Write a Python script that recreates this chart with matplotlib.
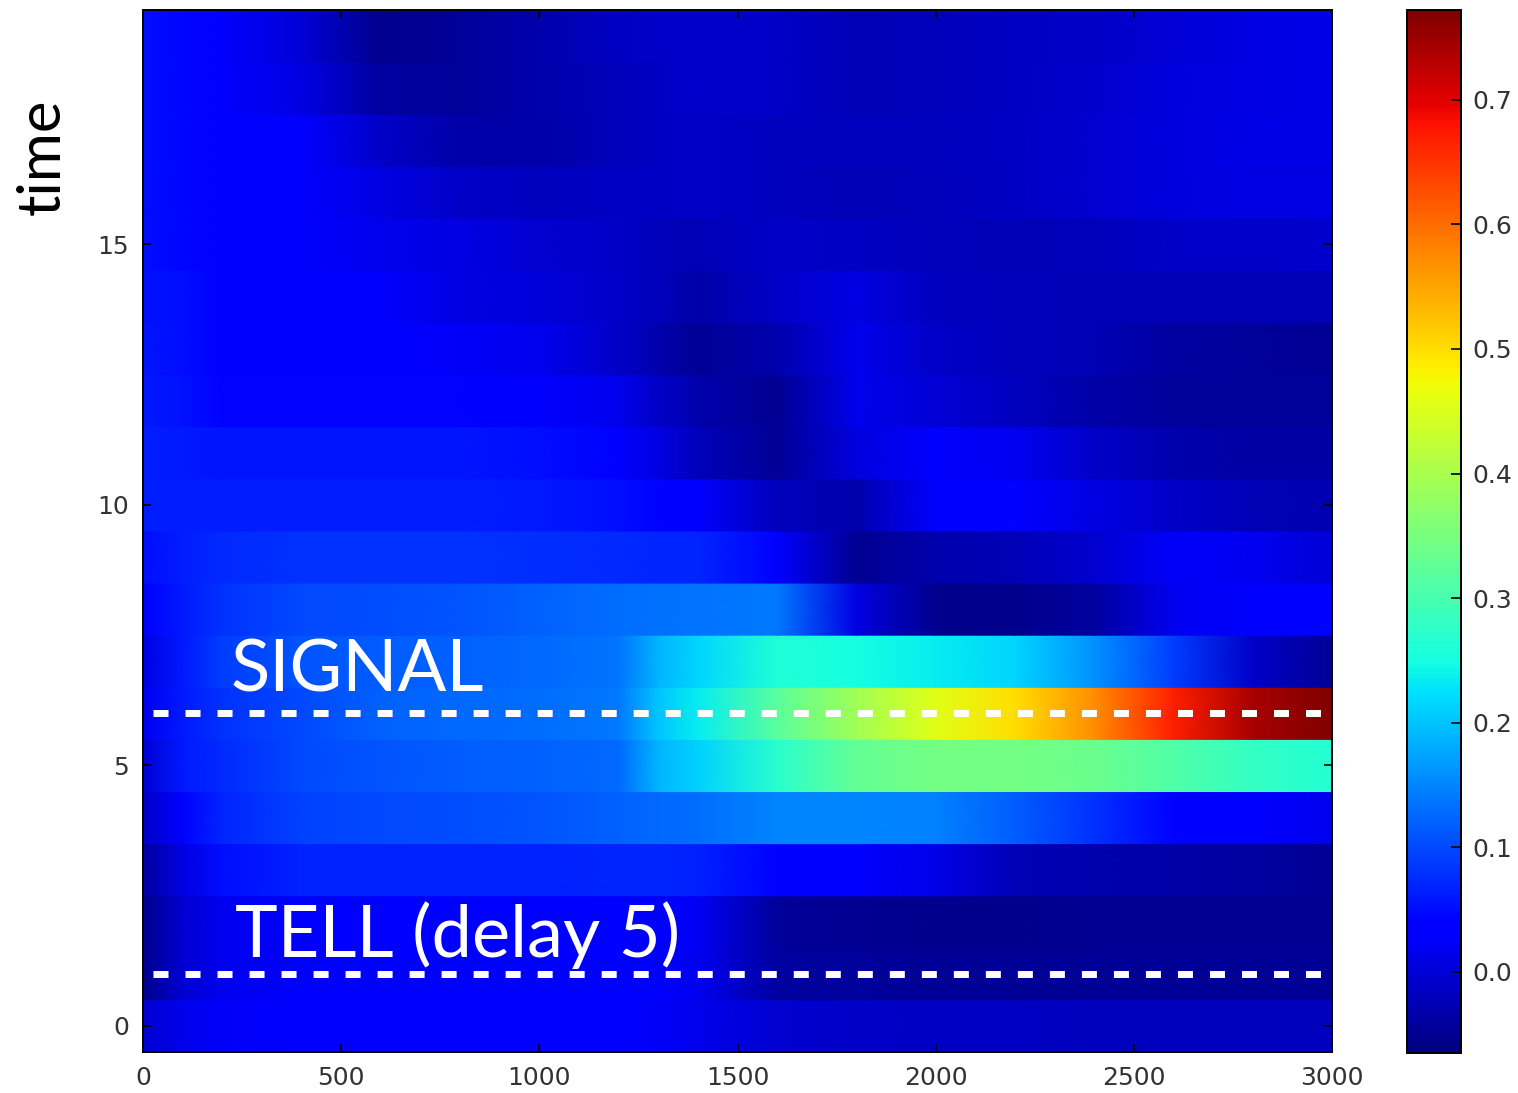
"""Heatmap of unit activity over time with SIGNAL / TELL markers."""

import matplotlib
matplotlib.use("Agg")
import matplotlib.pyplot as plt
import numpy as np

# sample positions along the horizontal axis (data units)
x_samples = [0, 100, 200, 400, 600, 800, 1000, 1200, 1300, 1400,
             1600, 1800, 2000, 2200, 2400, 2600, 2800, 3000]

# one list per time step (row 0 at the bottom), values read at x_samples
row_00 = [-0.005, 0.015, 0.026, 0.030, 0.030, 0.030, 0.030, 0.028, 0.024, 0.015,
          -0.005, -0.010, -0.013, -0.015, -0.016, -0.017, -0.018, -0.019]
row_01 = [-0.055, -0.005, 0.020, 0.032, 0.033, 0.033, 0.033, 0.032, 0.028, 0.020,
          -0.042, -0.045, -0.047, -0.047, -0.047, -0.047, -0.047, -0.047]
row_02 = [-0.055, -0.005, 0.020, 0.035, 0.037, 0.037, 0.037, 0.036, 0.032, 0.022,
          -0.045, -0.050, -0.052, -0.052, -0.050, -0.050, -0.050, -0.050]
row_03 = [-0.040, 0.010, 0.050, 0.066, 0.068, 0.068, 0.069, 0.070, 0.070, 0.068,
          0.038, 0.030, 0.012, -0.025, -0.030, -0.035, -0.042, -0.047]
row_04 = [-0.010, 0.040, 0.070, 0.095, 0.100, 0.105, 0.110, 0.120, 0.125, 0.130,
          0.150, 0.150, 0.145, 0.115, 0.080, 0.040, 0.030, 0.015]
row_05 = [0.000, 0.060, 0.075, 0.100, 0.110, 0.115, 0.120, 0.125, 0.190, 0.210,
          0.270, 0.330, 0.345, 0.345, 0.335, 0.310, 0.280, 0.265]
row_06 = [0.020, 0.060, 0.080, 0.100, 0.120, 0.125, 0.130, 0.140, 0.200, 0.235,
          0.320, 0.390, 0.455, 0.500, 0.570, 0.670, 0.740, 0.770]
row_07 = [0.010, 0.060, 0.090, 0.110, 0.115, 0.120, 0.125, 0.135, 0.190, 0.215,
          0.260, 0.250, 0.235, 0.215, 0.160, 0.090, -0.010, -0.047]
row_08 = [0.040, 0.060, 0.080, 0.100, 0.105, 0.110, 0.120, 0.128, 0.132, 0.135,
          0.140, 0.010, -0.055, -0.055, -0.040, 0.020, 0.035, 0.040]
row_09 = [0.050, 0.065, 0.075, 0.080, 0.080, 0.080, 0.078, 0.075, 0.072, 0.070,
          0.030, -0.050, -0.030, -0.025, -0.005, 0.025, 0.020, 0.000]
row_10 = [0.065, 0.065, 0.065, 0.065, 0.065, 0.065, 0.060, 0.050, 0.040, 0.030,
          -0.020, -0.030, 0.030, 0.040, 0.010, -0.010, -0.025, -0.028]
row_11 = [0.065, 0.060, 0.057, 0.057, 0.057, 0.057, 0.050, 0.035, 0.010, -0.020,
          -0.047, 0.005, 0.035, 0.020, -0.010, -0.030, -0.037, -0.037]
row_12 = [0.061, 0.055, 0.042, 0.040, 0.040, 0.040, 0.030, 0.015, -0.010, -0.030,
          -0.050, 0.015, 0.000, -0.019, -0.035, -0.043, -0.043, -0.043]
row_13 = [0.058, 0.050, 0.037, 0.035, 0.035, 0.025, 0.015, -0.010, -0.030, -0.047,
          -0.030, 0.015, -0.010, -0.020, -0.025, -0.040, -0.045, -0.047]
row_14 = [0.055, 0.050, 0.037, 0.035, 0.030, 0.010, 0.002, -0.010, -0.020, -0.033,
          -0.010, 0.009, -0.019, -0.022, -0.024, -0.024, -0.024, -0.024]
row_15 = [0.050, 0.045, 0.035, 0.033, 0.015, 0.009, -0.005, -0.010, -0.020, -0.024,
          -0.010, -0.013, -0.020, -0.024, -0.020, -0.012, -0.010, -0.008]
row_16 = [0.050, 0.045, 0.035, 0.032, 0.010, -0.012, -0.018, -0.015, -0.013, -0.010,
          -0.019, -0.024, -0.020, -0.013, -0.005, 0.005, 0.010, 0.010]
row_17 = [0.050, 0.045, 0.035, 0.030, -0.010, -0.035, -0.035, -0.020, -0.015, -0.010,
          -0.019, -0.019, -0.019, -0.015, -0.005, 0.005, 0.013, 0.013]
row_18 = [0.050, 0.045, 0.035, 0.010, -0.040, -0.045, -0.030, -0.020, -0.015, -0.008,
          -0.012, -0.024, -0.022, -0.015, -0.008, 0.005, 0.010, 0.012]
row_19 = [0.050, 0.045, 0.035, 0.000, -0.055, -0.045, -0.030, -0.015, -0.012, -0.010,
          -0.012, -0.024, -0.020, -0.014, -0.010, 0.000, 0.008, 0.012]

rows = [row_00, row_01, row_02, row_03, row_04, row_05, row_06, row_07, row_08, row_09,
        row_10, row_11, row_12, row_13, row_14, row_15, row_16, row_17, row_18, row_19]

marker_times = [6, 1]
marker_labels = ["SIGNAL", "TELL (delay 5)"]

x_ticks = [0, 500, 1000, 1500, 2000, 2500, 3000]
y_ticks = [0, 5, 10, 15]
cbar_ticks = [0.0, 0.1, 0.2, 0.3, 0.4, 0.5, 0.6, 0.7]

plt.rcParams["font.family"] = ["DejaVu Sans"]
plt.rcParams["xtick.direction"] = "in"
plt.rcParams["ytick.direction"] = "in"

fig = plt.figure(figsize=(15.18, 10.93), dpi=100)
ax = fig.add_axes([0.0942, 0.0375, 0.7833, 0.9534])
cax = fig.add_axes([0.9269, 0.0366, 0.0356, 0.9543])

norm = plt.Normalize(vmin=-0.065, vmax=0.772)
xs = np.asarray(x_samples, dtype=float)
mesh = None
# one gouraud strip per time step: smooth along x, sharp between rows
for t, vals in enumerate(rows):
    X = np.vstack([xs, xs])
    Y = np.vstack([np.full_like(xs, t - 0.5), np.full_like(xs, t + 0.5)])
    C = np.vstack([vals, vals])
    mesh = ax.pcolormesh(X, Y, C, shading="gouraud", cmap="jet", norm=norm,
                         antialiased=False)

for t in marker_times:
    ax.hlines(t, 25, 2985, colors="white", linewidth=5,
              linestyles=(0, (2.16, 2.45)))

label_font = ["Lato", "DejaVu Sans"]
ax.text(220, 6.42, marker_labels[0], color="white", fontsize=52,
        family=label_font, va="baseline", ha="left")
ax.text(232, 1.33, marker_labels[1], color="white", fontsize=52,
        family=label_font, va="baseline", ha="left")

ax.set_xlim(0, 3000)
ax.set_ylim(-0.5, 19.5)
ax.set_xticks(x_ticks)
ax.set_yticks(y_ticks)
ax.tick_params(axis="both", which="both", top=True, right=True, length=6,
               width=1.2, labelsize=18, labelcolor="#333333", pad=10)
for sp in ax.spines.values():
    sp.set_linewidth(1.4)

fig.text(0.028, 1 - 157 / 1093, "time", rotation=90, fontsize=43,
         family=label_font, ha="center", va="center")

cb = fig.colorbar(mesh, cax=cax, ticks=cbar_ticks)
cb.ax.tick_params(direction="in", length=7, width=1.2, labelsize=18,
                  labelcolor="#333333", pad=8)
cb.ax.set_yticklabels([f"{v:.1f}" for v in cbar_ticks])
cb.outline.set_linewidth(1.4)

fig.savefig("out.png", dpi=100)
plt.close(fig)
